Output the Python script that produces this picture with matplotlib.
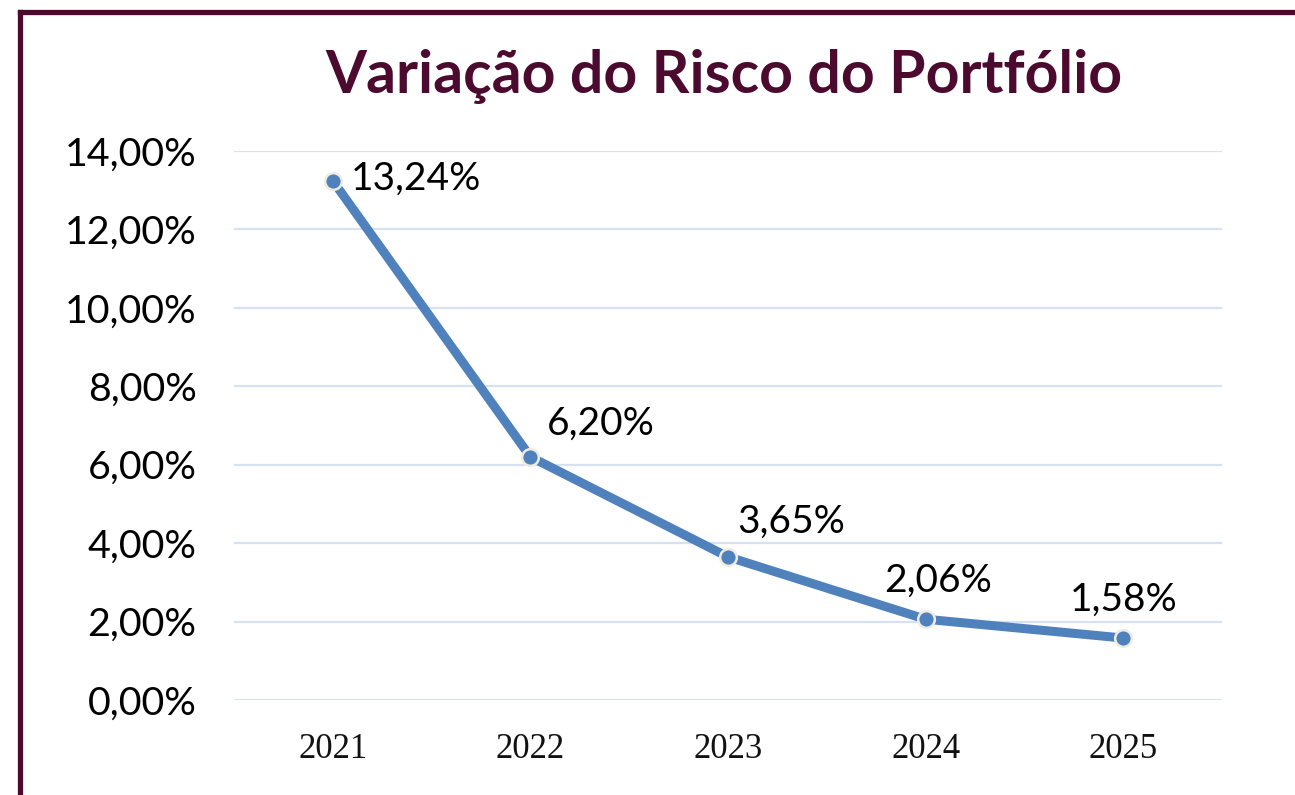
import matplotlib
matplotlib.use("Agg")
import matplotlib.pyplot as plt
from matplotlib.lines import Line2D

years = ["2021", "2022", "2023", "2024", "2025"]
risk = [13.24, 6.20, 3.65, 2.06, 1.58]
labels = ["13,24%", "6,20%", "3,65%", "2,06%", "1,58%"]
yticks = [0, 2, 4, 6, 8, 10, 12, 14]

MAROON = "#4B0A2E"
BLUE = "#4F81BD"
GRID = "#D6E2F1"

W, H = 1295, 795
fig = plt.figure(figsize=(W / 100, H / 100), dpi=100)
ax = fig.add_axes([234 / W, 1 - 700 / H, (1222 - 234) / W, (700 - 151) / H])

x = list(range(len(years)))
ax.plot(x, risk, color=BLUE, lw=6.5, solid_capstyle="round", zorder=3,
        marker="o", markersize=12, markerfacecolor=BLUE,
        markeredgecolor="#EEECE1", markeredgewidth=1.8)

ax.set_xlim(-0.5, len(years) - 0.5)
ax.set_ylim(0, 14)
ax.set_yticks(yticks)
ax.set_yticklabels([f"{v:.2f}".replace(".", ",") + "%" for v in yticks],
                   fontname="Lato", fontsize=28.4, color="black")
ax.set_xticks(x)
ax.set_xticklabels(years, fontname="Liberation Serif", fontsize=25, color="#111111")
ax.tick_params(axis="y", length=0, pad=27)
ax.tick_params(axis="x", length=0, pad=24)
for s in ax.spines.values():
    s.set_visible(False)
ax.yaxis.grid(True, color=GRID, lw=1.6)
ax.set_axisbelow(True)

# label offsets in pixels (dx, dy), alignment
offs = [(18, 2, "left"), (70, 33, "center"), (63, 35, "center"), (12, 38, "center"), (0, 38, "center")]
for xi, yi, lab, (dx, dy, ha) in zip(x, risk, labels, offs):
    ax.annotate(lab, (xi, yi), xytext=(dx, dy), textcoords="offset pixels",
                ha=ha, va="center", fontname="Lato", fontsize=28, color="black", zorder=4)

fig.text(724 / W, 1 - 77 / H, "Variação do Risco do Portfólio", ha="center", va="center",
         fontname="Lato", fontweight="bold", fontsize=42.5, color=MAROON)

# frame (left and top edges)
fig.add_artist(Line2D([19.5 / W, 19.5 / W], [0, 1 - 12 / H], color=MAROON, lw=3.8,
                      transform=fig.transFigure, solid_capstyle="projecting"))
fig.add_artist(Line2D([19.5 / W, 1.0], [1 - 12 / H, 1 - 12 / H], color=MAROON, lw=3.8,
                      transform=fig.transFigure, solid_capstyle="projecting"))

fig.savefig("out.png", dpi=100)
